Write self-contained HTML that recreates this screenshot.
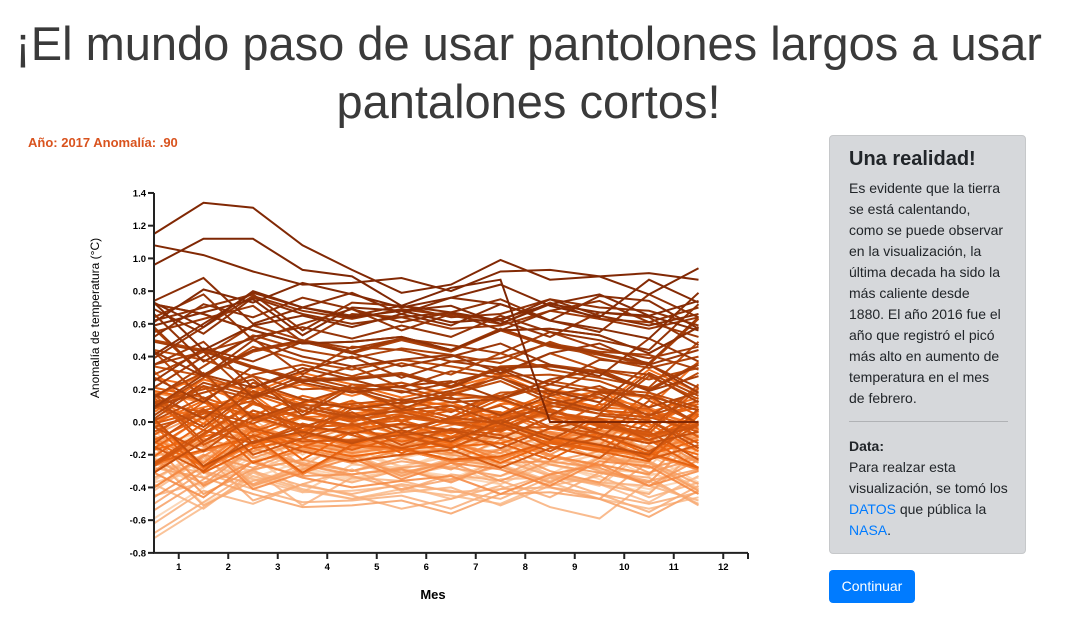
<!DOCTYPE html>
<html><head><meta charset="utf-8">
<style>
body{margin:0;width:1065px;height:623px;background:#fff;font-family:"Liberation Sans",sans-serif;overflow:hidden;position:relative;color:#212529}
#title{position:absolute;left:0;top:15px;width:1057px;text-align:center;font-size:47px;font-weight:300;line-height:58px;color:#3a3a3a}
#info{position:absolute;left:28px;top:135px;font-size:13px;font-weight:bold;color:#d9531e}
#panel{position:absolute;left:829px;top:135px;width:197px;height:419px;background:#d6d8db;border:1px solid #c6c8ca;border-radius:4px;box-sizing:border-box;padding:10px 17px 10px 19px}
#panel h4{margin:0 0 6px;font-size:20px;font-weight:bold;line-height:26px}
#panel p{margin:0;font-size:14px;line-height:21px}
#panel hr{border:0;border-top:1px solid #b0b2b5;margin:12px 0 14px 0}
#panel a{color:#007bff;text-decoration:none}
#btn{position:absolute;left:829px;top:570px;width:86px;height:33px;background:#007bff;color:#fff;border-radius:4px;font-size:14px;line-height:33px;text-align:center}
svg{position:absolute;left:0;top:0}
</style></head><body>
<div id="title">¡El mundo paso de usar pantolones largos a usar<br>pantalones cortos!</div>
<div id="info">Año: 2017 Anomalía: .90</div>
<div id="panel">
<h4>Una realidad!</h4>
<p>Es evidente que la tierra se está calentando, como se puede observar en la visualización, la última decada ha sido la más caliente desde 1880. El año 2016 fue el año que registró el picó más alto en aumento de temperatura en el mes de febrero.</p>
<hr>
<p><b>Data:</b><br>Para realzar esta visualización, se tomó los <a>DATOS</a> que pública la <a>NASA</a>.</p>
</div>
<div id="btn">Continuar</div>
<svg id="chart" width="1065" height="623"></svg>
<script>
const months=[1,2,3,4,5,6,7,8,9,10,11,12];
const yTicks=[-0.8,-0.6,-0.4,-0.2,0,0.2,0.4,0.6,0.8,1.0,1.2,1.4];
const annual=[-.16,-.08,-.11,-.17,-.28,-.33,-.31,-.36,-.17,-.10,
-.35,-.22,-.27,-.31,-.30,-.22,-.11,-.11,-.27,-.17,
-.08,-.15,-.28,-.37,-.47,-.26,-.22,-.39,-.43,-.48,
-.43,-.44,-.36,-.34,-.15,-.14,-.36,-.46,-.30,-.27,
-.27,-.19,-.28,-.26,-.27,-.22,-.10,-.22,-.20,-.36,
-.16,-.09,-.16,-.29,-.12,-.20,-.15,-.03,0,-.02,
.13,.19,.07,.09,.20,.09,-.07,-.03,-.11,-.11,
-.17,-.07,.01,.08,-.13,-.14,-.19,.05,.06,.03,
-.03,.06,.03,.05,-.20,-.11,-.06,-.02,-.08,.05,
.03,-.08,.01,.16,-.07,-.01,-.10,.18,.07,.16,
.26,.32,.14,.31,.16,.12,.18,.32,.39,.27,
.45,.41,.22,.23,.31,.45,.33,.46,.61,.38,
.39,.54,.63,.62,.54,.68,.64,.66,.54,.65,
.72,.61,.65,.68,.75,.90,1.01];
const pattern0=[.05,-.10,.12,.02,-.04,.00,.03,-.08,.04,.10,-.03,.06];
const pattern1=[-.14,.06,-.02,.10,.03,-.05,.01,.09,-.04,-.11,.12,-.02];
const pattern2=[.18,.12,.02,-.06,-.05,-.02,-.10,.02,.03,-.01,-.12,.04];
const pattern3=[-.24,-.05,.14,.05,.00,.06,.02,-.03,.10,.00,-.06,.01];
const pattern4=[.02,.16,-.12,-.02,.07,-.06,.04,.00,-.10,.05,.02,-.15];
const pattern5=[.12,-.17,-.02,.04,-.03,.05,-.02,.11,.01,-.04,-.10,.18];
const pattern6=[-.06,.02,.10,-.12,.05,.03,-.04,-.02,.07,.02,.00,-.09];
const patterns=[pattern0,pattern1,pattern2,pattern3,pattern4,pattern5,pattern6];
const y2016=[1.15,1.34,1.31,1.08,0.93,0.79,0.84,0.99,0.87,0.89,0.91,0.87];
const y2017=[0.96,1.12,1.12,0.93,0.89,0.71,0.82,0.87,0,0,0,0];
const svg=document.getElementById('chart');const NS='http://www.w3.org/2000/svg';
const X=m=>154+(m-1)*49.5, Xt=m=>154+(m-0.5)*49.5;
const Y=v=>422-v*163.6;
function col(t){const a=[254,226,198],b=[241,105,19],c=[127,39,4];let p,q,s;if(t<0.5){p=a;q=b;s=t*2}else{p=b;q=c;s=(t-0.5)*2}
return 'rgb('+p.map((v,i)=>Math.round(v+(q[i]-v)*s)).join(',')+')';}
function mk(t,attrs){const e=document.createElementNS(NS,t);for(const k in attrs)e.setAttribute(k,attrs[k]);svg.appendChild(e);return e;}
const series=annual.map((a,i)=>patterns[i%7].map(d=>a+d));
series.push(y2017);series[136]=y2016;
series.forEach((vals,i)=>{
 const d=vals.map((v,j)=>(j?'L':'M')+X(months[j]).toFixed(1)+','+Y(v).toFixed(1)).join('');
 const p=mk('path',{d:d,fill:'none',stroke:col(i/(series.length-1)),'stroke-width':2,opacity:i<60?0.85:1});
 
 
});
const ya=mk('line',{x1:154,y1:Y(1.4),x2:154,y2:Y(-0.8),stroke:'#222','stroke-width':2});

const xa=mk('line',{x1:153,y1:Y(-0.8),x2:748,y2:Y(-0.8),stroke:'#222','stroke-width':2});

yTicks.forEach(v=>{mk('line',{x1:148,x2:154,y1:Y(v),y2:Y(v),stroke:'#222','stroke-width':2});
 const t=mk('text',{x:146,y:Y(v)+3.5,'text-anchor':'end','font-size':9.5,'font-weight':'bold'});t.textContent=v.toFixed(1);
 });
months.forEach(m=>{mk('line',{x1:Xt(m),x2:Xt(m),y1:553,y2:559,stroke:'#222','stroke-width':2});
 const t=mk('text',{x:Xt(m),y:570,'text-anchor':'middle','font-size':9.5,'font-weight':'bold'});t.textContent=m;
 });
mk('line',{x1:748,x2:748,y1:553,y2:559,stroke:'#222','stroke-width':2});
const xt=mk('text',{x:433,y:599,'text-anchor':'middle','font-size':13,'font-weight':'bold'});xt.textContent='Mes';

const yt=mk('text',{x:0,y:0,'text-anchor':'middle','font-size':12,transform:'translate(99,318) rotate(-90)'});yt.textContent='Anomalía de temperatura (°C)';

</script>
</body></html>
